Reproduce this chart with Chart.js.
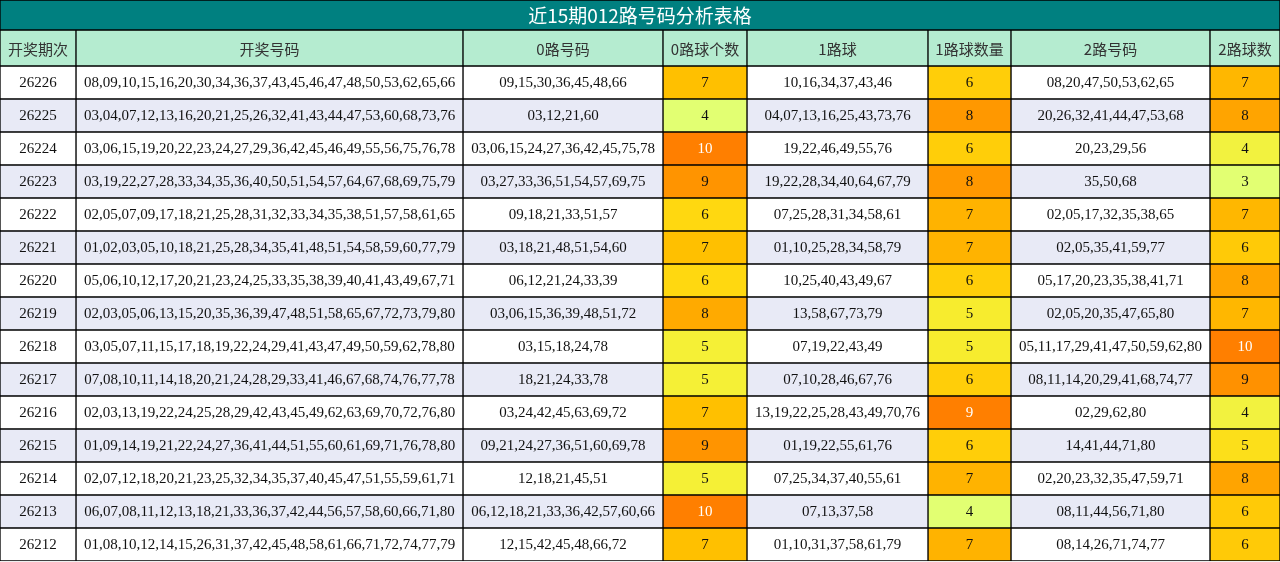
<!DOCTYPE html>
<html><head><meta charset="utf-8">
<script src="https://cdn.jsdelivr.net/npm/chart.js@4"></script>
<style>html,body{margin:0;padding:0;background:#fff}#w{width:1280px;height:562px}</style>
</head><body><div id="w"><canvas id="c" width="1280" height="562"></canvas></div>
<script>
const title = "近15期012路号码分析表格";
const headers = ["开奖期次","开奖号码","0路号码","0路球个数","1路球","1路球数量","2路号码","2路球数"];
const periods = ["26226","26225","26224","26223","26222","26221","26220","26219","26218","26217","26216","26215","26214","26213","26212"];
const draws = [
"08,09,10,15,16,20,30,34,36,37,43,45,46,47,48,50,53,62,65,66",
"03,04,07,12,13,16,20,21,25,26,32,41,43,44,47,53,60,68,73,76",
"03,06,15,19,20,22,23,24,27,29,36,42,45,46,49,55,56,75,76,78",
"03,19,22,27,28,33,34,35,36,40,50,51,54,57,64,67,68,69,75,79",
"02,05,07,09,17,18,21,25,28,31,32,33,34,35,38,51,57,58,61,65",
"01,02,03,05,10,18,21,25,28,34,35,41,48,51,54,58,59,60,77,79",
"05,06,10,12,17,20,21,23,24,25,33,35,38,39,40,41,43,49,67,71",
"02,03,05,06,13,15,20,35,36,39,47,48,51,58,65,67,72,73,79,80",
"03,05,07,11,15,17,18,19,22,24,29,41,43,47,49,50,59,62,78,80",
"07,08,10,11,14,18,20,21,24,28,29,33,41,46,67,68,74,76,77,78",
"02,03,13,19,22,24,25,28,29,42,43,45,49,62,63,69,70,72,76,80",
"01,09,14,19,21,22,24,27,36,41,44,51,55,60,61,69,71,76,78,80",
"02,07,12,18,20,21,23,25,32,34,35,37,40,45,47,51,55,59,61,71",
"06,07,08,11,12,13,18,21,33,36,37,42,44,56,57,58,60,66,71,80",
"01,08,10,12,14,15,26,31,37,42,45,48,58,61,66,71,72,74,77,79"];
const road0 = ["09,15,30,36,45,48,66","03,12,21,60","03,06,15,24,27,36,42,45,75,78","03,27,33,36,51,54,57,69,75","09,18,21,33,51,57","03,18,21,48,51,54,60","06,12,21,24,33,39","03,06,15,36,39,48,51,72","03,15,18,24,78","18,21,24,33,78","03,24,42,45,63,69,72","09,21,24,27,36,51,60,69,78","12,18,21,45,51","06,12,18,21,33,36,42,57,60,66","12,15,42,45,48,66,72"];
const count0 = [7,4,10,9,6,7,6,8,5,5,7,9,5,10,7];
const road1 = ["10,16,34,37,43,46","04,07,13,16,25,43,73,76","19,22,46,49,55,76","19,22,28,34,40,64,67,79","07,25,28,31,34,58,61","01,10,25,28,34,58,79","10,25,40,43,49,67","13,58,67,73,79","07,19,22,43,49","07,10,28,46,67,76","13,19,22,25,28,43,49,70,76","01,19,22,55,61,76","07,25,34,37,40,55,61","07,13,37,58","01,10,31,37,58,61,79"];
const count1 = [6,8,6,8,7,7,6,5,5,6,9,6,7,4,7];
const road2 = ["08,20,47,50,53,62,65","20,26,32,41,44,47,53,68","20,23,29,56","35,50,68","02,05,17,32,35,38,65","02,05,35,41,59,77","05,17,20,23,35,38,41,71","02,05,20,35,47,65,80","05,11,17,29,41,47,50,59,62,80","08,11,14,20,29,41,68,74,77","02,29,62,80","14,41,44,71,80","02,20,23,32,35,47,59,71","08,11,44,56,71,80","08,14,26,71,74,77"];
const count2 = [7,8,4,3,7,6,8,7,10,9,4,5,8,6,6];

const colEdges = [0,76,463,663,747,928,1011,1210,1280];
const TITLE_H = 30, HEAD_H = 36, ROW_H = 33;

const stops = [[0,[226,255,114]],[0.17,[245,240,53]],[0.33,[255,216,16]],[0.5,[255,192,0]],[0.67,[255,170,0]],[0.83,[255,148,0]],[1,[255,127,0]]];
function heat(v, arr){
  const mn=Math.min(...arr), mx=Math.max(...arr), t=(v-mn)/(mx-mn);
  for(let i=1;i<stops.length;i++){ if(t<=stops[i][0]+1e-9){ const a=stops[i-1],b=stops[i],f=(t-a[0])/(b[0]-a[0]);
    const c=a[1].map((x,k)=>Math.round(x+(b[1][k]-x)*f)); return `rgb(${c.join(',')})`; } }
  return 'rgb(255,127,0)';
}
const columns = [periods, draws, road0, count0, road1, count1, road2, count2];
const countCols = {3:count0,5:count1,7:count2};
const rowY = i => TITLE_H + HEAD_H + ROW_H*i + ROW_H/2;

const datasets = [];
datasets.push({data:[{x:[0,1280],y:TITLE_H/2}], texts:[title], textColors:['#fff'], font:'19px "Noto Sans CJK SC"',
  backgroundColor:'#008080', barThickness:TITLE_H});
datasets.push({data:headers.map((h,j)=>({x:[colEdges[j],colEdges[j+1]],y:TITLE_H+HEAD_H/2})), texts:headers,
  textColors:headers.map(()=> '#333'), font:'15px "Noto Sans CJK SC"', backgroundColor:'#b5ecd0', barThickness:HEAD_H});
columns.forEach((col,j)=>{
  const cc = countCols[j];
  datasets.push({data:col.map((v,i)=>({x:[colEdges[j],colEdges[j+1]],y:rowY(i)})), texts:col.map(String),
    textColors:col.map((v)=> cc && v===Math.max(...cc) ? '#fff' : '#111'),
    font:'15px "Liberation Serif"',
    backgroundColor:col.map((v,i)=> cc ? heat(v,cc) : (i%2 ? '#e8eaf6' : '#ffffff')), barThickness:ROW_H});
});
datasets.forEach(d=>{d.borderColor='#000';d.borderWidth=1;d.borderSkipped=false;d.grouped=false;});

const textPlugin = {id:'cellText', afterDatasetsDraw(chart){
  const ctx=chart.ctx; ctx.save(); ctx.textAlign='center'; ctx.textBaseline='middle';
  chart.data.datasets.forEach((ds,di)=>{
    chart.getDatasetMeta(di).data.forEach((el,i)=>{
      ctx.font=ds.font; ctx.fillStyle=ds.textColors[i];
      ctx.fillText(ds.texts[i], (el.x+el.base)/2, el.y+1);
    });
  });
  ctx.restore();
}};

new Chart(document.getElementById('c'), {
  type:'bar',
  data:{datasets},
  options:{indexAxis:'y', responsive:false, animation:false, devicePixelRatio:1,
    layout:{padding:0},
    plugins:{legend:{display:false}, tooltip:{enabled:false}, title:{display:false}},
    scales:{
      x:{type:'linear', min:0, max:1280, display:false, offset:false},
      y:{type:'linear', min:0, max:562, reverse:true, display:false, offset:false}
    }},
  plugins:[textPlugin]
});
</script></body></html>
